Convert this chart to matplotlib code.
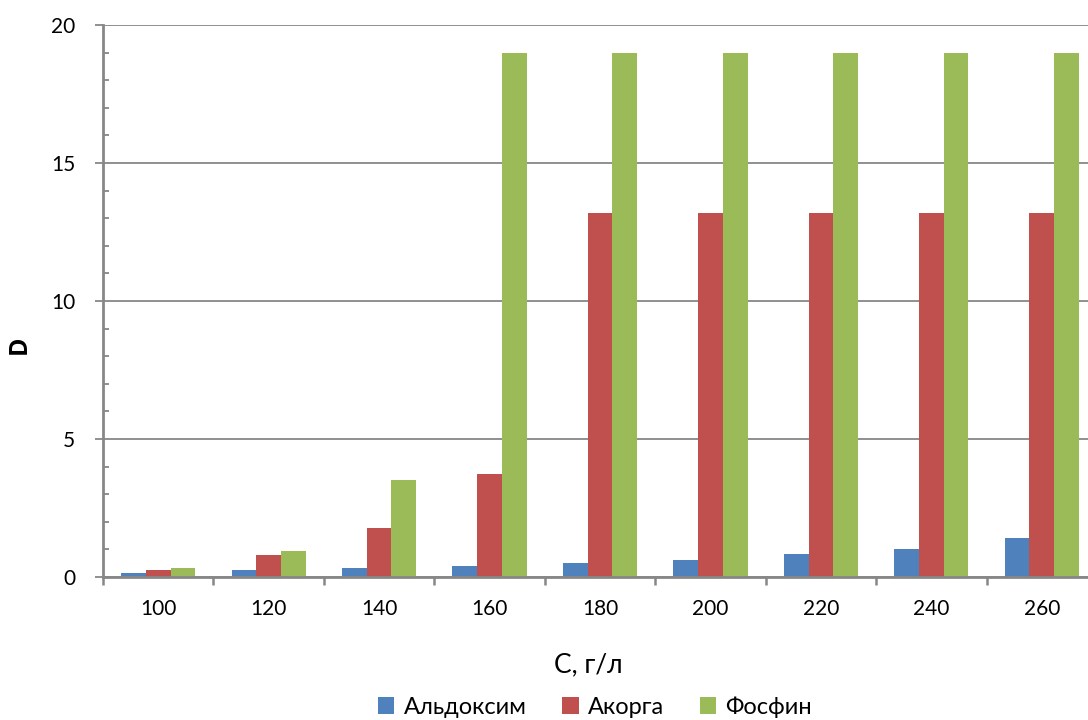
import matplotlib.pyplot as plt
import numpy as np

plt.rcParams['font.family'] = ['Lato', 'Open Sans', 'DejaVu Sans']

# concentrations, g/l
conc = ['100', '120', '140', '160', '180', '200', '220', '240', '260']
aldoxim = [0.15, 0.25, 0.33, 0.40, 0.50, 0.62, 0.83, 1.01, 1.41]
akorga = [0.25, 0.80, 1.78, 3.73, 13.2, 13.2, 13.2, 13.2, 13.2]
fosfin = [0.33, 0.94, 3.51, 19.0, 19.0, 19.0, 19.0, 19.0, 19.0]

series = [('Альдоксим', aldoxim, '#4F81BD'),
          ('Акорга', akorga, '#C0504D'),
          ('Фосфин', fosfin, '#9BBB59')]

fig = plt.figure(figsize=(10.88, 7.2), dpi=100)
ax = fig.add_axes([103 / 1088, 143 / 720, 994 / 1088, 552 / 720])

x = np.arange(len(conc))
w = 0.224
for i, (name, vals, col) in enumerate(series):
    ax.bar(x + (i - 1) * w, vals, w, color=col, label=name, zorder=3)

ax.set_xlim(-0.5, len(conc) - 0.5)
ax.set_ylim(0, 20)

grid_c = '#878787'
ax.set_yticks([0, 5, 10, 15, 20])
ax.set_yticks(np.arange(0, 21, 1), minor=True)
ax.yaxis.grid(True, which='major', color=grid_c, linewidth=1.3, zorder=0)
ax.tick_params(axis='y', which='major', length=6, width=1.3, color=grid_c,
               labelsize=15, pad=14)
ax.tick_params(axis='y', which='minor', direction='in', length=4.5,
               width=1.3, color=grid_c)

# category boundaries as ticks, labels at the centres
ax.set_xticks(np.arange(-0.5, len(conc), 1))
ax.set_xticklabels([])
ax.set_xticks(x, minor=True)
ax.set_xticklabels(conc, minor=True)
ax.tick_params(axis='x', which='major', length=6, width=1.8, color=grid_c)
ax.tick_params(axis='x', which='minor', length=0, labelsize=15, pad=16)

for s in ['top', 'right']:
    ax.spines[s].set_visible(False)
ax.spines['left'].set_color(grid_c)
ax.spines['left'].set_linewidth(2)
ax.spines['bottom'].set_color(grid_c)
ax.spines['bottom'].set_linewidth(2)
ax.spines['bottom'].set_zorder(4)

ax.set_ylabel('D', fontsize=18, fontweight='bold',
              family=['Open Sans', 'DejaVu Sans'])
ax.yaxis.set_label_coords((32 - 103) / 994, (577 - 345) / 552)
fig.text(588 / 1088, 1 - 665 / 720, 'C, г/л', fontsize=19,
         ha='center', va='center')

fig.legend(loc='center', bbox_to_anchor=(595 / 1088, 1 - 707 / 720),
           ncol=3, frameon=False, fontsize=17, handlelength=0.7,
           handleheight=0.7, handletextpad=0.4, columnspacing=1.5)

fig.savefig('out.png', dpi=100)
